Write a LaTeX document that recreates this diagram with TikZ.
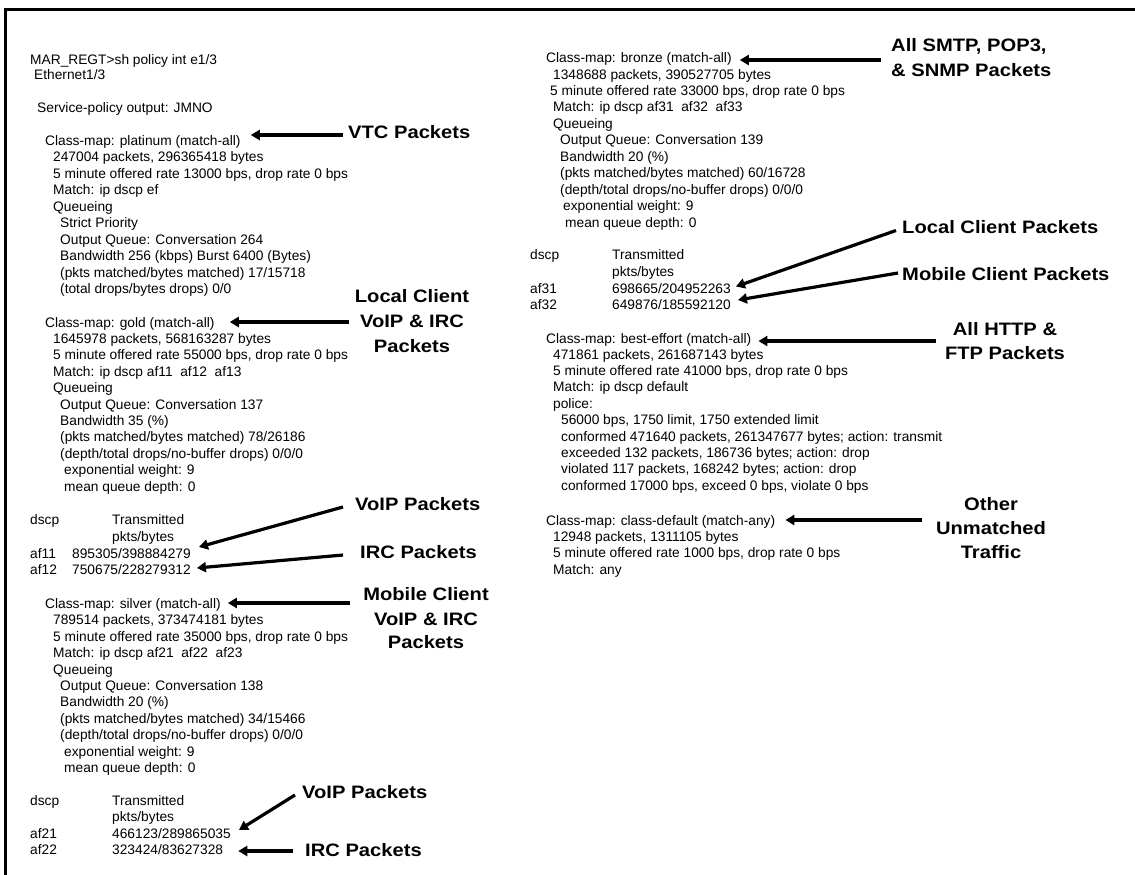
\documentclass[tikz,border=0pt]{standalone}
\usepackage{fontspec}
\setmainfont{Liberation Sans}
\newfontfamily\lblfont[FakeStretch=1.12]{Liberation Sans}
\usetikzlibrary{arrows.meta,calc}
\tikzset{
  cl/.style={anchor=base west, inner sep=0pt, font=\fontsize{13.75}{16}\selectfont},
  lb/.style={inner sep=0pt, font=\lblfont\bfseries\fontsize{18}{22}\selectfont},
  lbw/.style={lb, anchor=base west},
  lbc/.style={lb, anchor=base},
  arr/.style={line width=3.2pt, -{Triangle[length=9pt,width=10pt]}},
  frame/.style={line width=3pt}
}
\begin{document}
\begin{tikzpicture}[x=1pt,y=1pt]
\useasboundingbox (0,0) rectangle (1135,-875);
\draw[frame] (5,-875) -- (5,-10) -- (1135,-10);

% ---------- left column ----------
\node[cl] (h1) at (30,-64) {MAR\_REGT>sh policy int e1/3};
\node[cl] (h2) at (34,-79) {Ethernet1/3};
\node[cl] (h3) at (37,-112) {Service-policy output: JMNO};

\node[cl] (p0) at (45,-145) {Class-map: platinum (match-all)};
\node[cl] (p1) at (53,-161.5) {247004 packets, 296365418 bytes};
\node[cl] (p2) at (53,-178) {5 minute offered rate 13000 bps, drop rate 0 bps};
\node[cl] (p3) at (53,-194.5) {Match: ip dscp ef};
\node[cl] (p4) at (53,-211) {Queueing};
\node[cl] (p5) at (60,-227.5) {Strict Priority};
\node[cl] (p6) at (60,-244) {Output Queue: Conversation 264};
\node[cl] (p7) at (60,-260.5) {Bandwidth 256 (kbps) Burst 6400 (Bytes)};
\node[cl] (p8) at (60,-277) {(pkts matched/bytes matched) 17/15718};
\node[cl] (p9) at (60,-293.5) {(total drops/bytes drops) 0/0};

\node[cl] (g0) at (45,-327) {Class-map: gold (match-all)};
\node[cl] (g1) at (53,-343.4) {1645978 packets, 568163287 bytes};
\node[cl] (g2) at (53,-359.8) {5 minute offered rate 55000 bps, drop rate 0 bps};
\node[cl] (g3) at (53,-376.2) {Match: ip dscp af11\ \ af12\ \ af13};
\node[cl] (g4) at (53,-392.6) {Queueing};
\node[cl] (g5) at (60,-409) {Output Queue: Conversation 137};
\node[cl] (g6) at (60,-425.4) {Bandwidth 35 (\%)};
\node[cl] (g7) at (60,-441.8) {(pkts matched/bytes matched) 78/26186};
\node[cl] (g8) at (60,-458.2) {(depth/total drops/no-buffer drops) 0/0/0};
\node[cl] (g9) at (64,-474.6) {exponential weight: 9};
\node[cl] (g10) at (64,-491) {mean queue depth: 0};

\node[cl] (gt1) at (30,-524) {dscp};
\node[cl] (gt2) at (112,-524) {Transmitted};
\node[cl] (gt3) at (112,-541) {pkts/bytes};
\node[cl] (gt4) at (30,-558) {af11};
\node[cl] (gt5) at (72,-558) {895305/398884279};
\node[cl] (gt6) at (30,-574.5) {af12};
\node[cl] (gt7) at (72,-574.5) {750675/228279312};

\node[cl] (s0) at (45,-608.5) {Class-map: silver (match-all)};
\node[cl] (s1) at (53,-624.9) {789514 packets, 373474181 bytes};
\node[cl] (s2) at (53,-641.3) {5 minute offered rate 35000 bps, drop rate 0 bps};
\node[cl] (s3) at (53,-657.7) {Match: ip dscp af21\ \ af22\ \ af23};
\node[cl] (s4) at (53,-674.1) {Queueing};
\node[cl] (s5) at (60,-690.5) {Output Queue: Conversation 138};
\node[cl] (s6) at (60,-706.9) {Bandwidth 20 (\%)};
\node[cl] (s7) at (60,-723.3) {(pkts matched/bytes matched) 34/15466};
\node[cl] (s8) at (60,-739.7) {(depth/total drops/no-buffer drops) 0/0/0};
\node[cl] (s9) at (64,-756.1) {exponential weight: 9};
\node[cl] (s10) at (64,-772.5) {mean queue depth: 0};

\node[cl] (st1) at (30,-805) {dscp};
\node[cl] (st2) at (112,-805) {Transmitted};
\node[cl] (st3) at (112,-821.5) {pkts/bytes};
\node[cl] (st4) at (30,-838.5) {af21};
\node[cl] (st5) at (112,-838.5) {466123/289865035};
\node[cl] (st6) at (30,-854.5) {af22};
\node[cl] (st7) at (112,-854.5) {323424/83627328};

% ---------- right column ----------
\node[cl] (b0) at (546,-62.5) {Class-map: bronze (match-all)};
\node[cl] (b1) at (553,-79) {1348688 packets, 390527705 bytes};
\node[cl] (b2) at (550,-95.4) {5 minute offered rate 33000 bps, drop rate 0 bps};
\node[cl] (b3) at (553,-111.9) {Match: ip dscp af31\ \ af32\ \ af33};
\node[cl] (b4) at (553,-128.3) {Queueing};
\node[cl] (b5) at (560,-144.8) {Output Queue: Conversation 139};
\node[cl] (b6) at (560,-161.2) {Bandwidth 20 (\%)};
\node[cl] (b7) at (560,-177.7) {(pkts matched/bytes matched) 60/16728};
\node[cl] (b8) at (560,-194.1) {(depth/total drops/no-buffer drops) 0/0/0};
\node[cl] (b9) at (563,-210.6) {exponential weight: 9};
\node[cl] (b10) at (565,-227) {mean queue depth: 0};

\node[cl] (bt1) at (530,-259) {dscp};
\node[cl] (bt2) at (612,-259) {Transmitted};
\node[cl] (bt3) at (612,-276) {pkts/bytes};
\node[cl] (bt4) at (530,-293.5) {af31};
\node[cl] (bt5) at (612,-293.5) {698665/204952263};
\node[cl] (bt6) at (530,-309.5) {af32};
\node[cl] (bt7) at (612,-309.5) {649876/185592120};

\node[cl] (e0) at (546,-343.3) {Class-map: best-effort (match-all)};
\node[cl] (e1) at (553,-359) {471861 packets, 261687143 bytes};
\node[cl] (e2) at (553,-375.4) {5 minute offered rate 41000 bps, drop rate 0 bps};
\node[cl] (e3) at (553,-391.8) {Match: ip dscp default};
\node[cl] (e4) at (553,-408.2) {police:};
\node[cl] (e5) at (561,-424.6) {56000 bps, 1750 limit, 1750 extended limit};
\node[cl] (e6) at (561,-441) {conformed 471640 packets, 261347677 bytes; action: transmit};
\node[cl] (e7) at (561,-457.4) {exceeded 132 packets, 186736 bytes; action: drop};
\node[cl] (e8) at (561,-473.8) {violated 117 packets, 168242 bytes; action: drop};
\node[cl] (e9) at (561,-490.2) {conformed 17000 bps, exceed 0 bps, violate 0 bps};

\node[cl] (d0) at (546,-525) {Class-map: class-default (match-any)};
\node[cl] (d1) at (553,-541.4) {12948 packets, 1311105 bytes};
\node[cl] (d2) at (553,-557.8) {5 minute offered rate 1000 bps, drop rate 0 bps};
\node[cl] (d3) at (553,-574.2) {Match: any};

% ---------- labels ----------
\node[lbw] (vtc) at (348,-138) {VTC Packets};
\node[lbc] (lc1) at (412,-302) {Local Client};
\node[lbc] (lc2) at (412,-327) {VoIP \& IRC};
\node[lbc] (lc3) at (412,-352) {Packets};
\node[lbw] (gv) at (355,-510) {VoIP Packets};
\node[lbw] (gi) at (360,-558) {IRC Packets};
\node[lbc] (mc1) at (426,-600) {Mobile Client};
\node[lbc] (mc2) at (426,-625) {VoIP \& IRC};
\node[lbc] (mc3) at (426,-648) {Packets};
\node[lbw] (sv) at (302,-798) {VoIP Packets};
\node[lbw] (si) at (305,-856) {IRC Packets};

\node[lbw] (sm1) at (891,-52) {All SMTP, POP3,};
\node[lbw] (sm2) at (891,-77) {\& SNMP Packets};
\node[lbw] (lcp) at (902,-233.5) {Local Client Packets};
\node[lbw] (mcp) at (902,-280) {Mobile Client Packets};
\node[lbc] (ht1) at (1005,-335) {All HTTP \&};
\node[lbc] (ht2) at (1005,-359) {FTP Packets};
\node[lbc] (ou1) at (991,-510) {Other};
\node[lbc] (ou2) at (991,-534) {Unmatched};
\node[lbc] (ou3) at (991,-558) {Traffic};

% ---------- arrows ----------
\draw[arr] ($(vtc.base west)+(-5,3)$) -- ($(p0.base east)+(10,10)$);
\draw[arr] ($(lc2.base west)+(-11,5)$) -- ($(g0.base east)+(15,5)$);
\draw[arr] ($(gv.base west)+(-12,3)$) -- ($(gt5.base east)+(8,11)$);
\draw[arr] ($(gi.base west)+(-17,3)$) -- ($(gt7.base east)+(6,6.5)$);
\draw[arr] ($(mc1.base west)+(-13,-3)$) -- ($(s0.base east)+(7,5.5)$);
\draw[arr] ($(sv.base west)+(-7,3)$) -- ($(st5.base east)+(8,8.5)$);
\draw[arr] ($(si.base west)+(-12,5)$) -- ($(st7.base east)+(15,3.5)$);
\draw[arr] ($(sm1.base west)+(-10,-8)$) -- ($(b0.base east)+(8,2.5)$);
\draw[arr] ($(lcp.base west)+(-6,3)$) -- ($(bt5.base east)+(5,7)$);
\draw[arr] ($(mcp.base west)+(-4,7)$) -- ($(bt7.base east)+(7,9.5)$);
\draw[arr] ($(ht1.base west)+(-17,-6)$) -- ($(e0.base east)+(7,2.3)$);
\draw[arr] ($(ou2.base west)+(-14,14)$) -- ($(d0.base east)+(10,5)$);
\end{tikzpicture}
\end{document}
